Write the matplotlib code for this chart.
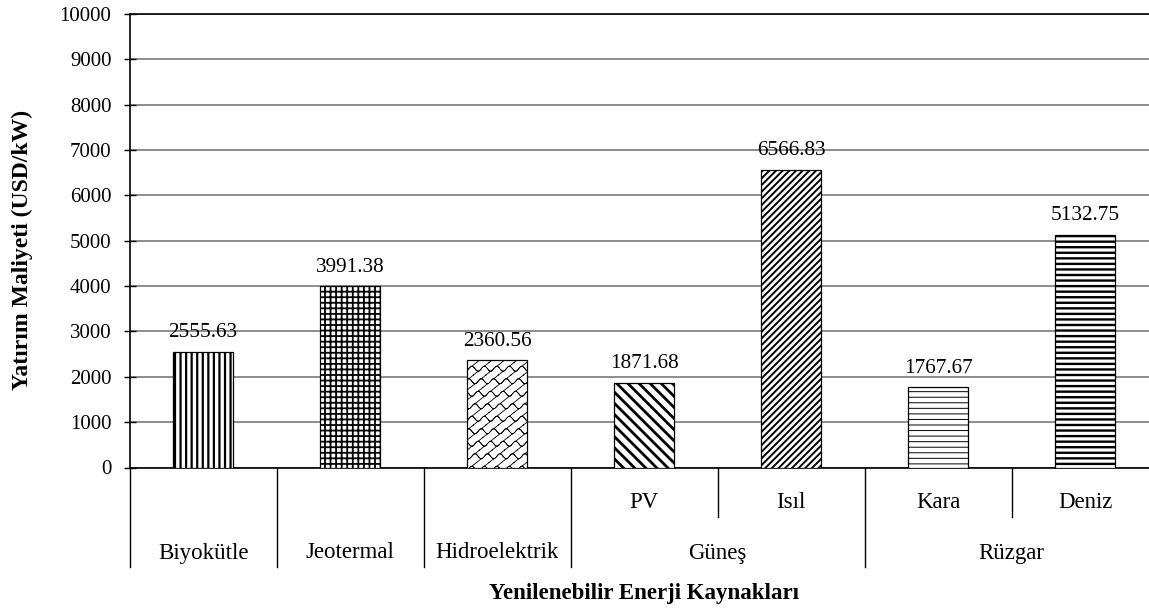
import warnings
import numpy as np
import matplotlib
matplotlib.use("Agg")
import matplotlib.pyplot as plt
import matplotlib.hatch as mhatch
from matplotlib.path import Path
import matplotlib.transforms as mtransforms

warnings.filterwarnings("ignore")

# ---- data ----
groups = ["Biyokütle", "Jeotermal", "Hidroelektrik", "Güneş", "Güneş", "Rüzgar", "Rüzgar"]
subgroups = ["", "", "", "PV", "Isıl", "Kara", "Deniz"]
costs = [2555.63, 3991.38, 2360.56, 1871.68, 6566.83, 1767.67, 5132.75]
yticks = [0, 1000, 2000, 3000, 4000, 5000, 6000, 7000, 8000, 9000, 10000]

# ---- hatch styles for each bar (pattern, line width in pt) ----
hatches = ["|||", "+++", "ww", "\\\\\\", "/////", "---", "---"]
hatch_lw = [1.6, 1.3, 0.6, 2.0, 1.4, 0.7, 1.7]


class ShingleHatch(mhatch.HatchPatternBase):
    """Wavy rows joined by slanted links, giving a shingle-like texture.
    Built only from two-point segments so nothing gets filled."""

    def __init__(self, hatch, density):
        self.cells = int(hatch.count('w') * 4)
        self.pts = 13
        n = self.cells
        self.num_vertices = n * n * (2 * (self.pts - 1) + 8) if n else 0

    def set_vertices_and_codes(self, vertices, codes):
        n = self.cells
        s = 1.0 / n
        p = self.pts
        amp = 0.2
        t = np.linspace(0.0, 1.0, p)
        k = 0
        for r in range(n):
            y0 = (r + 0.5) * s
            sh = (r % 4) * 0.25
            for c in range(n):
                xs = (c + t) * s
                ys = y0 + amp * s * np.sin(2 * np.pi * (t - sh))
                for j in range(p - 1):
                    vertices[k] = (xs[j], ys[j])
                    vertices[k + 1] = (xs[j + 1], ys[j + 1])
                    codes[k] = Path.MOVETO
                    codes[k + 1] = Path.LINETO
                    k += 2
                links = [
                    ((c + 0.25 + sh) * s, y0 + amp * s, (c + 0.625 + sh) * s, y0 + 0.5 * s),
                    ((c + 0.375 + sh) * s, y0 - 0.5 * s, (c + 0.75 + sh) * s, y0 - amp * s),
                ]
                for xa, ya, xb, yb in links:
                    off = np.floor(xa)
                    for dx in (-off, -off - 1.0):
                        vertices[k] = (xa + dx, ya)
                        vertices[k + 1] = (xb + dx, yb)
                        codes[k] = Path.MOVETO
                        codes[k + 1] = Path.LINETO
                        k += 2


if ShingleHatch not in mhatch._hatch_types:
    mhatch._hatch_types.append(ShingleHatch)

plt.rcParams['font.family'] = ['Liberation Serif', 'DejaVu Serif']
plt.rcParams['hatch.color'] = 'black'

W, H = 1149, 610
fig = plt.figure(figsize=(W / 100, H / 100), dpi=100)

# plot area in pixels (right part extends past the figure edge)
left_px, right_px, top_px, bottom_px = 129.6, 1158.6, 14.0, 467.5
ax = fig.add_axes([left_px / W, 1 - bottom_px / H,
                   (right_px - left_px) / W, (bottom_px - top_px) / H])

x = np.arange(len(costs))
for i, (xi, val) in enumerate(zip(x, costs)):
    with plt.rc_context({'hatch.linewidth': hatch_lw[i]}):
        b = ax.bar(xi, val, width=0.41, facecolor='white', edgecolor='black',
                   linewidth=0.9, hatch=hatches[i], zorder=3)
        for patch in b:
            if hasattr(patch, 'set_hatch_linewidth'):
                patch.set_hatch_linewidth(hatch_lw[i])
    ax.annotate(f"{val:.2f}", (xi, val), xytext=(0, 10.5), textcoords='offset points',
                ha='center', va='baseline', fontsize=15.3, zorder=4)

ax.set_xlim(-0.5, len(costs) - 0.5)
ax.set_ylim(0, 10000)
ax.set_yticks(yticks)
ax.set_yticklabels([str(v) for v in yticks], fontsize=15)
ax.tick_params(axis='y', direction='inout', length=9, width=1.0, pad=8.5, colors='black')
ax.set_xticks([])
ax.yaxis.grid(True, color='#858585', linewidth=1.3)
ax.set_axisbelow(True)
for side in ['left', 'bottom', 'top']:
    ax.spines[side].set_color('black')
    ax.spines[side].set_linewidth(1.2)
ax.spines['right'].set_visible(False)

# ---- hierarchical category axis below the plot ----
ah = bottom_px - top_px
def yfrac(py):
    return (bottom_px - py) / ah

trans = mtransforms.blended_transform_factory(ax.transData, ax.transAxes)
long_end = yfrac(567)
short_end = yfrac(517)

# group boundaries (long lines) and sub-category boundaries (short lines)
edges = [-0.5]
for i in range(1, len(groups)):
    if groups[i] != groups[i - 1]:
        edges.append(i - 0.5)
for e in edges:
    ax.plot([e, e], [0, long_end], transform=trans, color='black', lw=1.0,
            clip_on=False)
for i in range(1, len(groups)):
    if groups[i] == groups[i - 1]:
        ax.plot([i - 0.5, i - 0.5], [0, short_end], transform=trans,
                color='black', lw=1.0, clip_on=False)

for i, s in enumerate(subgroups):
    if s:
        ax.text(i, yfrac(503), s, transform=trans, ha='center', va='center',
                fontsize=16.5)

seen = []
for g in groups:
    if g not in seen:
        seen.append(g)
for g in seen:
    idx = [i for i, gg in enumerate(groups) if gg == g]
    ax.text(np.mean(idx), yfrac(553), g, transform=trans, ha='center',
            va='center', fontsize=16.5)

ax.text(0.5, yfrac(594), "Yenilenebilir Enerji Kaynakları", transform=ax.transAxes,
        ha='center', va='center', fontsize=16.5, fontweight='bold')
fig.text(22 / W, 1 - 250 / H, "Yatırım Maliyeti (USD/kW)", ha='center',
         va='center', rotation=90, fontsize=17, fontweight='bold')

fig.savefig("out.png", dpi=100)
